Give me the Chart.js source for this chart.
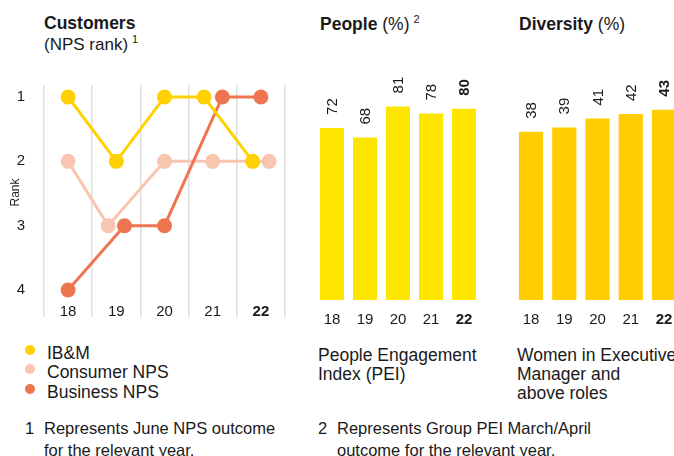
<!DOCTYPE html>
<html>
<head>
<meta charset="utf-8">
<script src="https://cdn.jsdelivr.net/npm/chart.js@4.4.1/dist/chart.umd.min.js"></script>
<style>
  html, body { margin: 0; padding: 0; background: #fff; }
  body {
    width: 674px; height: 456px; overflow: hidden; position: relative;
    font-family: "Liberation Sans", Arial, sans-serif; color: #1a1a1a;
  }
  .abs { position: absolute; white-space: nowrap; }
  .head { font-size: 17.5px; line-height: 20px; }
  .head b { font-weight: bold; }
  .sub { font-size: 17px; line-height: 20px; }
  .sup { font-size: 11px; position: relative; top: -7px; margin-left: 4px; }
  .legend { font-size: 17.5px; line-height: 19.3px; }
  .legend .dot {
    position: absolute; left: -22px; width: 10px; height: 10px; border-radius: 50%;
    margin-top: 1px;
  }
  .desc { font-size: 17.5px; line-height: 19px; }
  .note { font-size: 16.5px; line-height: 22px; }
  canvas { position: absolute; }
</style>
</head>
<body>

<div class="abs head" style="left:44px; top:13px;"><b>Customers</b></div>
<div class="abs sub" style="left:44px; top:35px;">(NPS rank)<span class="sup">1</span></div>
<div class="abs head" style="left:320px; top:14px;"><b>People</b> (%)<span class="sup">2</span></div>
<div class="abs head" style="left:519px; top:14px;"><b>Diversity</b> (%)</div>

<canvas id="npsChart" width="300" height="260" style="left:0; top:65px;"></canvas>
<canvas id="peiChart" width="200" height="275" style="left:300px; top:50px;"></canvas>
<canvas id="divChart" width="190" height="275" style="left:500px; top:50px;"></canvas>

<div class="abs legend" style="left:47px; top:344px;">
  <div style="position:relative;"><span class="dot" style="background:#ffd100;"></span>IB&amp;M</div>
  <div style="position:relative;"><span class="dot" style="background:#f8c6b0;"></span>Consumer NPS</div>
  <div style="position:relative;"><span class="dot" style="background:#ee7550;"></span>Business NPS</div>
</div>

<div class="abs desc" style="left:318px; top:346px;">People Engagement<br>Index (PEI)</div>
<div class="abs desc" style="left:517px; top:346px;">Women in Executive<br>Manager and<br>above roles</div>

<div class="abs note" style="left:25px; top:417px;">1</div>
<div class="abs note" style="left:44px; top:417px;">Represents June NPS outcome<br>for the relevant year.</div>
<div class="abs note" style="left:318px; top:417px;">2</div>
<div class="abs note" style="left:337px; top:417px;">Represents Group PEI March/April<br>outcome for the relevant year.</div>

<script>
// Jahre und Werte
const years = ["18", "19", "20", "21", "22"];
const ibmRank = [1, 2, 1, 1, 2];
const consumerRank = [2, 3, 2, 2, 2];
const businessRank = [4, 3, 3, 1, 1];
// seitlicher Versatz (in Jahren), damit sich die Punkte nicht verdecken
const ibmShift = [0, 0, 0, -0.18, -0.17];
const consumerShift = [0, -0.17, 0, 0, 0.17];
const businessShift = [0, 0.17, 0, 0.2, 0];
const rankTicks = [1, 2, 3, 4];
const peiValues = [72, 68, 81, 78, 80];
const diversityValues = [38, 39, 41, 42, 43];

const textColor = "#1a1a1a";
Chart.defaults.font.family = '"Liberation Sans", Arial, sans-serif';
Chart.defaults.color = textColor;

// letztes Jahr fett
const lastBold = (ctx) => ({
  size: 15,
  weight: ctx.index === years.length - 1 ? "bold" : "normal",
});

function rankPoints(ranks, shift) {
  return years.map((y, i) => ({ x: Number(y) + shift[i], y: ranks[i] }));
}

function rankLine(label, color, ranks, shift, order) {
  return {
    label: label,
    data: rankPoints(ranks, shift),
    xAxisID: "xl",
    borderColor: color,
    backgroundColor: color,
    pointBackgroundColor: color,
    borderWidth: 3,
    pointRadius: 7.5,
    pointHoverRadius: 7.5,
    pointBorderWidth: 0,
    tension: 0,
    order: order,
  };
}

new Chart(document.getElementById("npsChart"), {
  type: "line",
  data: {
    labels: years,
    datasets: [
      rankLine("IB&M", "#ffd100", ibmRank, ibmShift, 0),
      rankLine("Consumer NPS", "#f8c6b0", consumerRank, consumerShift, 2),
      rankLine("Business NPS", "#ee7550", businessRank, businessShift, 1),
    ],
  },
  options: {
    responsive: false,
    animation: false,
    clip: false,
    layout: { padding: { top: 5, right: 15, left: 0, bottom: 0 } },
    plugins: { legend: { display: false }, tooltip: { enabled: false } },
    scales: {
      xl: { type: "linear", display: false, min: 17.5, max: 22.5 },
      x: {
        type: "category",
        offset: true,
        grid: { offset: true, color: "#dedede", lineWidth: 1.5, tickLength: 17 },
        border: { display: false },
        ticks: { padding: -14, color: textColor, font: lastBold },
        afterFit: (s) => { s.height = 25; },
      },
      y: {
        type: "linear",
        reverse: true,
        min: 0.8135,
        max: 4.155,
        afterBuildTicks: (s) => { s.ticks = rankTicks.map((v) => ({ value: v })); },
        grid: { display: false },
        border: { display: false },
        ticks: { padding: 11, color: textColor, font: { size: 15 } },
        title: { display: true, text: "Rank", color: textColor, font: { size: 12 }, padding: { top: 8, bottom: 0 } },
        afterFit: (s) => { s.width = 44; },
      },
    },
  },
});

// Werte senkrecht über die Balken schreiben
const barValueLabels = {
  id: "barValueLabels",
  afterDatasetsDraw(chart) {
    const ctx = chart.ctx;
    const values = chart.data.datasets[0].data;
    chart.getDatasetMeta(0).data.forEach((bar, i) => {
      ctx.save();
      ctx.translate(bar.x, bar.y - 13);
      ctx.rotate(-Math.PI / 2);
      ctx.font = (i === values.length - 1 ? "bold " : "") + '15px "Liberation Sans", Arial, sans-serif';
      ctx.fillStyle = textColor;
      ctx.textAlign = "left";
      ctx.textBaseline = "middle";
      ctx.fillText(values[i], 0, 1);
      ctx.restore();
    });
  },
};

function barChart(id, values, color, yMax, pad) {
  new Chart(document.getElementById(id), {
    type: "bar",
    data: {
      labels: years,
      datasets: [{
        data: values,
        backgroundColor: color,
        categoryPercentage: 1,
        barPercentage: 0.727,
      }],
    },
    options: {
      responsive: false,
      animation: false,
      layout: { padding: pad },
      plugins: { legend: { display: false }, tooltip: { enabled: false } },
      scales: {
        x: {
          grid: { display: false },
          border: { display: false },
          ticks: { padding: 3, color: textColor, font: lastBold },
          afterFit: (s) => { s.height = 25; },
        },
        y: { display: false, min: 0, max: yMax },
      },
    },
    plugins: [barValueLabels],
  });
}

barChart("peiChart", peiValues, "#ffe600", 100, { top: 11, left: 15.5, right: 19.5, bottom: 0 });
barChart("divChart", diversityValues, "#ffcd00", 54, { top: 11, left: 14.4, right: 9.35, bottom: 0 });
</script>
</body>
</html>
